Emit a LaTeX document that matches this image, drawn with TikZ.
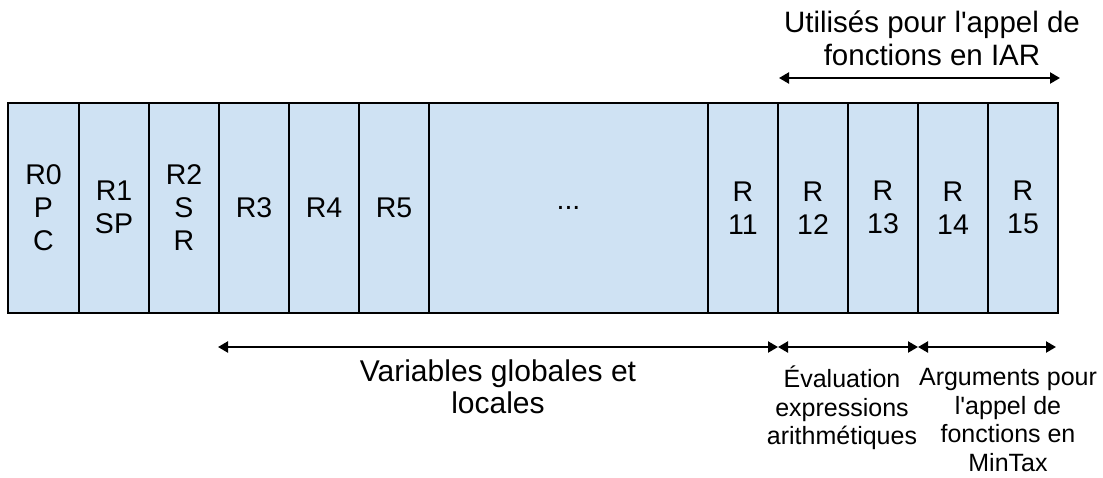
\documentclass[tikz,border=0pt]{standalone}
\usepackage{fontspec}
\setmainfont{Liberation Sans}
\usetikzlibrary{arrows.meta}
\definecolor{cellblue}{HTML}{CFE2F3}
\begin{document}
\begin{tikzpicture}[x=1pt,y=-1pt,
  cell/.style={draw=black, line width=2pt, fill=cellblue, minimum height=210.5pt,
    inner sep=0pt, align=center, font=\fontsize{28.5}{33}\selectfont},
  span/.style={line width=2.2pt,
    {Triangle[length=10pt,width=11pt]}-{Triangle[length=10pt,width=11pt]}},
  lbl/.style={align=center, inner sep=0pt}]
\useasboundingbox (0,0) rectangle (1103,477);

% register file, one cell per register
\node[cell, minimum width=71pt]  (r0)   at (43.5,207.75)  {R0\\P\\C};
\node[cell, minimum width=70pt]  (r1)   at (114,207.75)   {R1\\SP};
\node[cell, minimum width=70pt]  (r2)   at (184,207.75)   {R2\\S\\R};
\node[cell, minimum width=70pt]  (r3)   at (254,207.75)   {R3};
\node[cell, minimum width=70pt]  (r4)   at (324,207.75)   {R4};
\node[cell, minimum width=70pt]  (r5)   at (394,207.75)   {R5};
\node[cell, minimum width=279pt] (dots) at (568.5,207.75) {...};
\node[cell, minimum width=70pt]  (r11)  at (743,207.75)   {R\\11};
\node[cell, minimum width=70pt]  (r12)  at (813,207.75)   {R\\12};
\node[cell, minimum width=70pt]  (r13)  at (883,207.75)   {R\\13};
\node[cell, minimum width=70pt]  (r14)  at (953,207.75)   {R\\14};
\node[cell, minimum width=70pt]  (r15)  at (1023,207.75)  {R\\15};

% span end points
\coordinate (t0) at (779,78);
\coordinate (t1) at (1060,78);
\coordinate (b0) at (218,347);
\coordinate (b1) at (778,347);
\coordinate (b2) at (918,347);
\coordinate (b3) at (1056,347);

% spans
\draw[span] (t0) -- (t1);
\draw[span] (b0) -- (b1);
\draw[span] (b1) -- (b2);
\draw[span] (b2) -- (b3);

% span labels
\node[lbl, font=\fontsize{29.5}{33}\selectfont] (top) at (932,38)
  {Utilisés pour l\textquotesingle appel de\\fonctions en IAR};
\node[lbl, font=\fontsize{30}{32}\selectfont] (vars) at (498,387)
  {Variables globales et\\locales};
\node[lbl, font=\fontsize{25}{28.5}\selectfont] (eval) at (842,408)
  {Évaluation\\expressions\\arithmétiques};
\node[lbl, font=\fontsize{25}{28.5}\selectfont] (args) at (1008,420)
  {Arguments pour\\l\textquotesingle appel de\\fonctions en\\MinTax};
\end{tikzpicture}
\end{document}
